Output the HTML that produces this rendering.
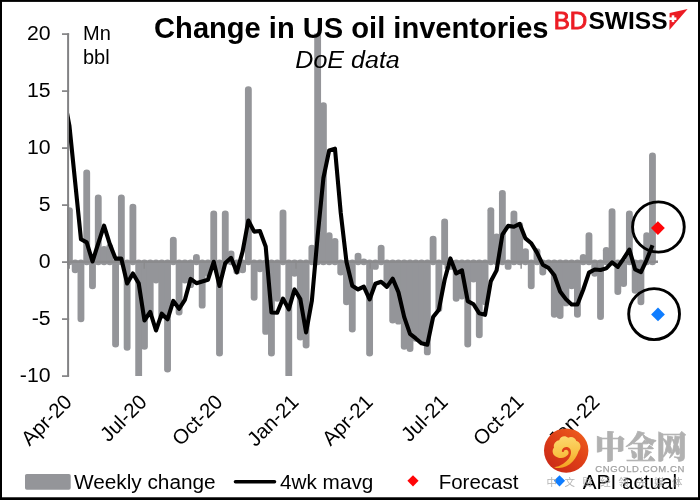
<!DOCTYPE html>
<html><head><meta charset="utf-8"><title>Change in US oil inventories</title>
<style>
html,body{margin:0;padding:0;background:#fff;}
body{width:700px;height:500px;overflow:hidden;position:relative;font-family:"Liberation Sans",sans-serif;}
svg{position:absolute;left:0;top:0;display:block;will-change:transform}
text{font-family:"Liberation Sans",sans-serif;fill:#000}
.ax{font-size:20px}
.cjk{font-family:"Liberation Serif","Noto Serif CJK SC",serif}
.cjks{font-family:"Liberation Sans","Noto Sans CJK SC",sans-serif}
</style></head><body>
<svg width="700" height="500" viewBox="0 0 700 500">
<defs>
<clipPath id="plot"><rect x="67" y="33.6" width="600" height="342.3"/></clipPath>
<clipPath id="plotl"><rect x="69" y="33.6" width="600" height="342.3"/></clipPath>
<linearGradient id="lg" x1="0.85" y1="0.1" x2="0.15" y2="0.9"><stop offset="0" stop-color="#ec5a1c"/><stop offset="0.5" stop-color="#dd3d17"/><stop offset="1" stop-color="#cb2a17"/></linearGradient>
<linearGradient id="gold" x1="0.4" y1="0" x2="0.5" y2="1"><stop offset="0" stop-color="#fcd86e"/><stop offset="0.55" stop-color="#f9c145"/><stop offset="1" stop-color="#f4a01f"/></linearGradient>
</defs>
<rect x="0" y="0" width="700" height="500" fill="#fff"/>
<!-- bars -->
<g clip-path="url(#plot)" fill="#949599">
<rect x="65.98" y="207.16" width="6.84" height="58.14" rx="3.42" ry="3.2"/>
<rect x="71.75" y="259.60" width="6.84" height="13.68" rx="3.42" ry="3.2"/>
<rect x="77.53" y="259.60" width="6.84" height="62.70" rx="3.42" ry="3.2"/>
<rect x="83.30" y="169.54" width="6.84" height="95.76" rx="3.42" ry="3.2"/>
<rect x="89.07" y="259.60" width="6.84" height="29.64" rx="3.42" ry="3.2"/>
<rect x="94.84" y="194.62" width="6.84" height="70.68" rx="3.42" ry="3.2"/>
<rect x="100.62" y="245.92" width="6.84" height="19.38" rx="3.42" ry="3.2"/>
<rect x="106.39" y="243.64" width="6.84" height="21.66" rx="3.42" ry="3.2"/>
<rect x="112.16" y="259.60" width="6.84" height="87.78" rx="3.42" ry="3.2"/>
<rect x="117.94" y="194.62" width="6.84" height="70.68" rx="3.42" ry="3.2"/>
<rect x="123.71" y="259.60" width="6.84" height="91.20" rx="3.42" ry="3.2"/>
<rect x="129.48" y="203.74" width="6.84" height="61.56" rx="3.42" ry="3.2"/>
<rect x="135.26" y="259.60" width="6.84" height="126.54" rx="3.42" ry="3.2"/>
<rect x="141.03" y="259.60" width="6.84" height="90.06" rx="3.42" ry="3.2"/>
<rect x="146.80" y="259.60" width="6.84" height="57.00" rx="3.42" ry="3.2"/>
<rect x="152.58" y="259.60" width="6.84" height="23.94" rx="3.42" ry="3.2"/>
<rect x="158.35" y="259.60" width="6.84" height="59.28" rx="3.42" ry="3.2"/>
<rect x="164.12" y="259.60" width="6.84" height="112.86" rx="3.42" ry="3.2"/>
<rect x="169.89" y="236.80" width="6.84" height="28.50" rx="3.42" ry="3.2"/>
<rect x="175.67" y="259.60" width="6.84" height="55.86" rx="3.42" ry="3.2"/>
<rect x="181.44" y="259.60" width="6.84" height="23.94" rx="3.42" ry="3.2"/>
<rect x="187.21" y="259.60" width="6.84" height="28.50" rx="3.42" ry="3.2"/>
<rect x="192.99" y="253.90" width="6.84" height="11.40" rx="3.42" ry="3.2"/>
<rect x="198.76" y="259.60" width="6.84" height="49.02" rx="3.42" ry="3.2"/>
<rect x="204.53" y="259.60" width="6.84" height="17.10" rx="3.42" ry="3.2"/>
<rect x="210.31" y="210.58" width="6.84" height="54.72" rx="3.42" ry="3.2"/>
<rect x="216.08" y="259.60" width="6.84" height="96.90" rx="3.42" ry="3.2"/>
<rect x="221.85" y="210.58" width="6.84" height="54.72" rx="3.42" ry="3.2"/>
<rect x="227.62" y="250.48" width="6.84" height="14.82" rx="3.42" ry="3.2"/>
<rect x="233.40" y="259.60" width="6.84" height="14.82" rx="3.42" ry="3.2"/>
<rect x="239.17" y="259.60" width="6.84" height="13.68" rx="3.42" ry="3.2"/>
<rect x="244.94" y="86.32" width="6.84" height="178.98" rx="3.42" ry="3.2"/>
<rect x="250.72" y="259.60" width="6.84" height="41.04" rx="3.42" ry="3.2"/>
<rect x="256.49" y="259.60" width="6.84" height="12.54" rx="3.42" ry="3.2"/>
<rect x="262.26" y="259.60" width="6.84" height="75.24" rx="3.42" ry="3.2"/>
<rect x="268.03" y="259.60" width="6.84" height="96.90" rx="3.42" ry="3.2"/>
<rect x="273.81" y="259.60" width="6.84" height="42.18" rx="3.42" ry="3.2"/>
<rect x="279.58" y="209.44" width="6.84" height="55.86" rx="3.42" ry="3.2"/>
<rect x="285.35" y="259.60" width="6.84" height="118.56" rx="3.42" ry="3.2"/>
<rect x="291.13" y="259.60" width="6.84" height="17.10" rx="3.42" ry="3.2"/>
<rect x="296.90" y="259.60" width="6.84" height="80.94" rx="3.42" ry="3.2"/>
<rect x="302.67" y="259.60" width="6.84" height="88.92" rx="3.42" ry="3.2"/>
<rect x="308.45" y="244.78" width="6.84" height="20.52" rx="3.42" ry="3.2"/>
<rect x="314.22" y="13.36" width="6.84" height="251.94" rx="3.42" ry="3.2"/>
<rect x="319.99" y="102.28" width="6.84" height="163.02" rx="3.42" ry="3.2"/>
<rect x="325.76" y="232.24" width="6.84" height="33.06" rx="3.42" ry="3.2"/>
<rect x="331.54" y="237.94" width="6.84" height="27.36" rx="3.42" ry="3.2"/>
<rect x="337.31" y="259.60" width="6.84" height="15.96" rx="3.42" ry="3.2"/>
<rect x="343.08" y="259.60" width="6.84" height="45.60" rx="3.42" ry="3.2"/>
<rect x="348.86" y="259.60" width="6.84" height="72.96" rx="3.42" ry="3.2"/>
<rect x="354.63" y="252.76" width="6.84" height="12.54" rx="3.42" ry="3.2"/>
<rect x="360.40" y="258.46" width="6.84" height="6.84" rx="3.42" ry="3.2"/>
<rect x="366.18" y="259.60" width="6.84" height="96.90" rx="3.42" ry="3.2"/>
<rect x="371.95" y="259.60" width="6.84" height="10.26" rx="3.42" ry="3.2"/>
<rect x="377.72" y="244.78" width="6.84" height="20.52" rx="3.42" ry="3.2"/>
<rect x="383.49" y="259.60" width="6.84" height="25.08" rx="3.42" ry="3.2"/>
<rect x="389.27" y="259.60" width="6.84" height="63.84" rx="3.42" ry="3.2"/>
<rect x="395.04" y="259.60" width="6.84" height="64.98" rx="3.42" ry="3.2"/>
<rect x="400.81" y="259.60" width="6.84" height="90.06" rx="3.42" ry="3.2"/>
<rect x="406.59" y="259.60" width="6.84" height="92.34" rx="3.42" ry="3.2"/>
<rect x="412.36" y="259.60" width="6.84" height="82.08" rx="3.42" ry="3.2"/>
<rect x="418.13" y="259.60" width="6.84" height="84.36" rx="3.42" ry="3.2"/>
<rect x="423.91" y="259.60" width="6.84" height="95.76" rx="3.42" ry="3.2"/>
<rect x="429.68" y="235.66" width="6.84" height="29.64" rx="3.42" ry="3.2"/>
<rect x="435.45" y="259.60" width="6.84" height="52.44" rx="3.42" ry="3.2"/>
<rect x="441.22" y="218.56" width="6.84" height="46.74" rx="3.42" ry="3.2"/>
<rect x="447.00" y="259.60" width="6.84" height="10.26" rx="3.42" ry="3.2"/>
<rect x="452.77" y="259.60" width="6.84" height="42.18" rx="3.42" ry="3.2"/>
<rect x="458.54" y="259.60" width="6.84" height="39.90" rx="3.42" ry="3.2"/>
<rect x="464.32" y="259.60" width="6.84" height="87.78" rx="3.42" ry="3.2"/>
<rect x="470.09" y="259.60" width="6.84" height="22.80" rx="3.42" ry="3.2"/>
<rect x="475.86" y="259.60" width="6.84" height="78.66" rx="3.42" ry="3.2"/>
<rect x="481.64" y="259.60" width="6.84" height="45.60" rx="3.42" ry="3.2"/>
<rect x="487.41" y="207.16" width="6.84" height="58.14" rx="3.42" ry="3.2"/>
<rect x="493.18" y="233.38" width="6.84" height="31.92" rx="3.42" ry="3.2"/>
<rect x="498.95" y="190.06" width="6.84" height="75.24" rx="3.42" ry="3.2"/>
<rect x="504.73" y="259.60" width="6.84" height="10.26" rx="3.42" ry="3.2"/>
<rect x="510.50" y="210.58" width="6.84" height="54.72" rx="3.42" ry="3.2"/>
<rect x="516.27" y="221.98" width="6.84" height="43.32" rx="3.42" ry="3.2"/>
<rect x="522.05" y="248.20" width="6.84" height="17.10" rx="3.42" ry="3.2"/>
<rect x="527.82" y="259.60" width="6.84" height="29.64" rx="3.42" ry="3.2"/>
<rect x="533.59" y="248.20" width="6.84" height="17.10" rx="3.42" ry="3.2"/>
<rect x="539.37" y="259.60" width="6.84" height="15.96" rx="3.42" ry="3.2"/>
<rect x="545.14" y="259.60" width="6.84" height="7.98" rx="3.42" ry="3.2"/>
<rect x="550.91" y="259.60" width="6.84" height="58.14" rx="3.42" ry="3.2"/>
<rect x="556.69" y="259.60" width="6.84" height="59.28" rx="3.42" ry="3.2"/>
<rect x="562.46" y="259.60" width="6.84" height="46.74" rx="3.42" ry="3.2"/>
<rect x="568.23" y="259.60" width="6.84" height="29.64" rx="3.42" ry="3.2"/>
<rect x="574.00" y="259.60" width="6.84" height="58.14" rx="3.42" ry="3.2"/>
<rect x="579.78" y="253.90" width="6.84" height="11.40" rx="3.42" ry="3.2"/>
<rect x="585.55" y="232.24" width="6.84" height="33.06" rx="3.42" ry="3.2"/>
<rect x="591.32" y="259.60" width="6.84" height="17.10" rx="3.42" ry="3.2"/>
<rect x="597.10" y="259.60" width="6.84" height="60.42" rx="3.42" ry="3.2"/>
<rect x="602.87" y="247.06" width="6.84" height="18.24" rx="3.42" ry="3.2"/>
<rect x="608.64" y="208.30" width="6.84" height="57.00" rx="3.42" ry="3.2"/>
<rect x="614.41" y="259.60" width="6.84" height="35.34" rx="3.42" ry="3.2"/>
<rect x="620.19" y="259.60" width="6.84" height="27.36" rx="3.42" ry="3.2"/>
<rect x="625.96" y="210.58" width="6.84" height="54.72" rx="3.42" ry="3.2"/>
<rect x="631.73" y="259.60" width="6.84" height="34.20" rx="3.42" ry="3.2"/>
<rect x="637.51" y="259.60" width="6.84" height="45.60" rx="3.42" ry="3.2"/>
<rect x="643.28" y="232.24" width="6.84" height="33.06" rx="3.42" ry="3.2"/>
<rect x="649.05" y="152.44" width="6.84" height="112.86" rx="3.42" ry="3.2"/>
</g>
<!-- zero axis -->
<line x1="67" y1="261.8" x2="658" y2="261.8" stroke="#8b8b8d" stroke-width="2.5"/>
<g stroke="#8b8b8d" stroke-width="1.4">
<line x1="69.20" y1="261.8" x2="69.20" y2="268.8"/>
<line x1="144.25" y1="261.8" x2="144.25" y2="268.8"/>
<line x1="220.12" y1="261.8" x2="220.12" y2="268.8"/>
<line x1="296.00" y1="261.8" x2="296.00" y2="268.8"/>
<line x1="370.22" y1="261.8" x2="370.22" y2="268.8"/>
<line x1="445.27" y1="261.8" x2="445.27" y2="268.8"/>
<line x1="521.14" y1="261.8" x2="521.14" y2="268.8"/>
<line x1="597.02" y1="261.8" x2="597.02" y2="268.8"/>
</g>
<!-- y axis -->
<g stroke="#828284" stroke-width="1.7">
<line x1="68.1" y1="33.25" x2="68.1" y2="376.35" stroke-width="2"/>
<line x1="62" y1="34.10" x2="69.1" y2="34.10"/>
<line x1="62" y1="91.10" x2="69.1" y2="91.10"/>
<line x1="62" y1="148.10" x2="69.1" y2="148.10"/>
<line x1="62" y1="205.10" x2="69.1" y2="205.10"/>
<line x1="62" y1="262.10" x2="69.1" y2="262.10"/>
<line x1="62" y1="319.10" x2="69.1" y2="319.10"/>
<line x1="62" y1="376.10" x2="69.1" y2="376.10"/>
</g>
<text font-size="19.6" text-anchor="end" transform="translate(50.6,40.30) scale(1.085,1)">20</text>
<text font-size="19.6" text-anchor="end" transform="translate(50.6,97.30) scale(1.085,1)">15</text>
<text font-size="19.6" text-anchor="end" transform="translate(50.6,154.30) scale(1.085,1)">10</text>
<text font-size="19.6" text-anchor="end" transform="translate(50.6,211.30) scale(1.085,1)">5</text>
<text font-size="19.6" text-anchor="end" transform="translate(50.6,268.30) scale(1.085,1)">0</text>
<text font-size="19.6" text-anchor="end" transform="translate(50.6,325.30) scale(1.085,1)">-5</text>
<text font-size="19.6" text-anchor="end" transform="translate(50.6,382.30) scale(1.085,1)">-10</text>
<!-- 4wk mavg line -->
<g clip-path="url(#plotl)">
<polyline points="63.63,95.36 69.40,125.57 75.17,182.29 80.95,239.29 86.72,242.42 92.49,261.51 98.27,243.28 104.04,225.61 109.81,244.13 115.58,258.67 121.36,258.67 127.13,283.46 132.90,273.49 138.68,283.18 144.45,320.51 150.22,311.96 156.00,330.49 161.77,313.67 167.54,319.37 173.31,300.85 179.09,308.82 184.86,299.99 190.63,278.90 196.41,283.18 202.18,281.47 207.95,279.75 213.72,261.80 219.50,286.03 225.27,262.94 231.04,257.81 236.82,272.35 242.59,251.54 248.36,220.48 254.14,231.59 259.91,231.02 265.68,246.41 271.45,312.53 277.23,312.81 283.00,298.56 288.77,309.39 294.55,289.44 300.32,299.13 306.09,332.48 311.87,300.56 317.64,236.15 323.41,178.01 329.18,150.37 334.96,148.66 340.73,212.78 346.50,262.09 352.28,285.74 358.05,289.44 363.82,286.60 369.60,299.42 375.37,283.75 381.14,281.75 386.91,286.88 392.69,278.62 398.46,292.30 404.23,317.09 410.01,333.91 415.78,338.47 421.55,343.31 427.33,344.74 433.10,317.09 438.87,309.68 444.64,279.75 450.42,258.38 456.19,273.49 461.96,270.35 467.74,301.13 473.51,304.26 479.28,313.38 485.06,314.81 490.83,281.18 496.60,270.35 502.38,234.73 508.15,225.89 513.92,226.75 519.69,223.90 525.47,238.43 531.24,243.28 537.01,252.68 542.79,264.65 548.56,268.07 554.33,275.19 560.11,291.44 565.88,299.13 571.65,304.55 577.42,304.55 583.20,289.73 588.97,272.63 594.74,269.50 600.52,270.06 606.29,268.36 612.06,262.37 617.83,266.93 623.61,258.67 629.38,249.55 635.15,269.50 640.93,272.06 646.70,259.81 652.47,245.27" fill="none" stroke="#000" stroke-width="4.1" stroke-linejoin="round" stroke-linecap="butt"/>
</g>
<!-- forecast / API markers -->
<polygon points="657.9,221.2 664.8,228.1 657.9,235 651,228.1" fill="#ff0508"/>
<polygon points="658,307.5 664.9,314.4 658,321.3 651.1,314.4" fill="#0f7dff"/>
<ellipse cx="658.4" cy="227" rx="25.85" ry="25.15" fill="none" stroke="#000" stroke-width="2.9"/>
<ellipse cx="654.1" cy="314.1" rx="25.4" ry="25.5" fill="none" stroke="#000" stroke-width="2.9"/>
<!-- x labels -->
<text font-size="20.5" text-anchor="end" transform="translate(73.00,403.2) rotate(-45)">Apr-20</text>
<text font-size="20.5" text-anchor="end" transform="translate(148.05,403.2) rotate(-45)">Jul-20</text>
<text font-size="20.5" text-anchor="end" transform="translate(223.92,403.2) rotate(-45)">Oct-20</text>
<text font-size="20.5" text-anchor="end" transform="translate(299.80,403.2) rotate(-45)">Jan-21</text>
<text font-size="20.5" text-anchor="end" transform="translate(374.02,403.2) rotate(-45)">Apr-21</text>
<text font-size="20.5" text-anchor="end" transform="translate(449.07,403.2) rotate(-45)">Jul-21</text>
<text font-size="20.5" text-anchor="end" transform="translate(524.94,403.2) rotate(-45)">Oct-21</text>
<text font-size="20.5" text-anchor="end" transform="translate(600.82,403.2) rotate(-45)">Jan-22</text>
<!-- units -->
<text class="ax" x="83" y="39.6">Mn</text>
<text class="ax" x="83" y="63.9">bbl</text>
<!-- title -->
<text x="154.1" y="37.7" font-size="29.1" font-weight="bold">Change in US oil inventories</text>
<text font-size="24" font-style="italic" transform="translate(295.3,67.8) scale(1.045,1)">DoE data</text>
<!-- BDSwiss logo -->
<text x="553.7" y="29" font-size="23.5" style="fill:#ec1c24;stroke:#ec1c24;stroke-width:0.9px" textLength="33.6" lengthAdjust="spacingAndGlyphs">BD</text>
<text x="588.5" y="29.3" font-size="24" font-weight="bold" textLength="79" lengthAdjust="spacingAndGlyphs">SWISS</text>
<polygon points="669.6,12.9 687.6,9.1 669.4,29.9" fill="#ec1c24"/>
<rect x="668.6" y="17.4" width="7.8" height="2.6" fill="#fff"/>
<rect x="671.7" y="15.3" width="2.6" height="6.8" fill="#fff"/>
<!-- watermark -->
<g>
<text class="cjk" x="594.8" y="458.2" font-size="30.5" font-weight="900" style="fill:#b1b1b1;stroke:#b1b1b1;stroke-width:0.7px" textLength="92" lengthAdjust="spacingAndGlyphs">中金网</text>
<text x="595.2" y="471.8" font-size="9.5" style="fill:#a2a2a2;stroke:#a2a2a2;stroke-width:0.25px" textLength="89.2" lengthAdjust="spacing">CNGOLD.COM.CN</text>
<circle cx="566.2" cy="450.6" r="22.2" fill="url(#lg)"/>
<g transform="translate(540,424) scale(0.108)">
<path fill="url(#gold)" d="M130,400 C185,420 255,402 305,345 C335,310 350,275 358,250 C388,222 378,166 336,158 C332,128 290,108 262,127 C232,100 188,112 178,150 C146,154 120,188 130,217 C104,244 118,296 160,307 C195,325 240,312 262,280 C270,262 262,244 248,240 C234,236 222,244 220,256 C212,261 202,257 202,249 C206,226 228,210 252,213 C276,217 290,240 287,270 C283,302 258,338 215,368 C188,387 158,398 130,400 Z"/>
</g>
</g>
<!-- legend -->
<rect x="25" y="473.9" width="45.7" height="15.8" rx="1.8" fill="#949599"/>
<text class="ax" transform="translate(73.9,488.9) scale(1.04,1)">Weekly change</text>
<line x1="235.5" y1="481.7" x2="274.5" y2="481.7" stroke="#000" stroke-width="3.6" stroke-linecap="round"/>
<text class="ax" transform="translate(280,488.9) scale(1.037,1)">4wk mavg</text>
<polygon points="413,475.2 418.6,480.8 413,486.4 407.4,480.8" fill="#ff0508"/>
<text class="ax" transform="translate(438.7,488.9) scale(1.025,1)">Forecast</text>
<polygon points="559.5,475.2 565.1,480.8 559.5,486.4 553.9,480.8" fill="#0f7dff"/>
<text class="ax" transform="translate(582.8,488.9) scale(1.036,1)">API actual</text>
<text class="cjks" x="546.5" y="485.8" font-size="10.5" style="fill:#a0a0a0" opacity="0.8" textLength="136" lengthAdjust="spacing">中文财经领先媒体</text>
<!-- border -->
<rect x="1" y="0.9" width="698" height="497.8" fill="none" stroke="#000" stroke-width="2"/>
<rect x="0" y="497.4" width="700" height="2.6" fill="#000"/>
</svg>
</body></html>
